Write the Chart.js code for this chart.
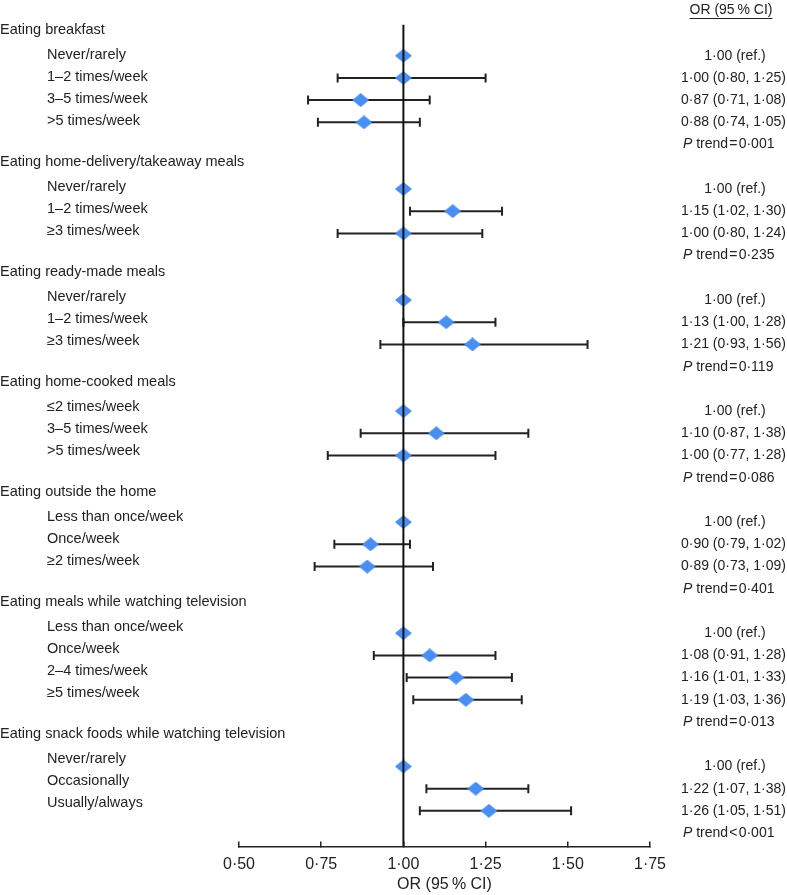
<!DOCTYPE html>
<html>
<head>
<meta charset="utf-8">
<script src="https://cdn.jsdelivr.net/npm/chart.js@4.4.1/dist/chart.umd.min.js"></script>
<style>
  body { margin: 0; background: #fff; }
  #wrap { width: 787px; height: 895px; position: relative; }
</style>
</head>
<body>
<div id="wrap"><canvas id="forest"></canvas></div>
<script>
// data
const sections = [
  'Eating breakfast',
  'Eating home-delivery/takeaway meals',
  'Eating ready-made meals',
  'Eating home-cooked meals',
  'Eating outside the home',
  'Eating meals while watching television',
  'Eating snack foods while watching television'
];
const itemLabels = [
  ['Never/rarely', '1–2 times/week', '3–5 times/week', '>5 times/week'],
  ['Never/rarely', '1–2 times/week', '≥3 times/week'],
  ['Never/rarely', '1–2 times/week', '≥3 times/week'],
  ['≤2 times/week', '3–5 times/week', '>5 times/week'],
  ['Less than once/week', 'Once/week', '≥2 times/week'],
  ['Less than once/week', 'Once/week', '2–4 times/week', '≥5 times/week'],
  ['Never/rarely', 'Occasionally', 'Usually/always']
];
const orValues = [
  [1.00, 1.00, 0.87, 0.88],
  [1.00, 1.15, 1.00],
  [1.00, 1.13, 1.21],
  [1.00, 1.10, 1.00],
  [1.00, 0.90, 0.89],
  [1.00, 1.08, 1.16, 1.19],
  [1.00, 1.22, 1.26]
];
const ciLower = [
  [null, 0.80, 0.71, 0.74],
  [null, 1.02, 0.80],
  [null, 1.00, 0.93],
  [null, 0.87, 0.77],
  [null, 0.79, 0.73],
  [null, 0.91, 1.01, 1.03],
  [null, 1.07, 1.05]
];
const ciUpper = [
  [null, 1.25, 1.08, 1.05],
  [null, 1.30, 1.24],
  [null, 1.28, 1.56],
  [null, 1.38, 1.28],
  [null, 1.02, 1.09],
  [null, 1.28, 1.33, 1.36],
  [null, 1.38, 1.51]
];
const pTrend = ['=0·001', '=0·235', '=0·119', '=0·086', '=0·401', '=0·013', '<0·001'];
const xTicks = [0.50, 0.75, 1.00, 1.25, 1.50, 1.75];
const refValue = 1.00;

const textColor = '#222';
const markColor = '#4A8FEF';
const fontFam = '"Liberation Sans", Arial, Helvetica, sans-serif';

function fmt(v) {
  return v.toFixed(2).replace('.', '·');
}

// one row for the header, one per category, one for the P trend
const rows = [];
let r = 0;
sections.forEach((name, s) => {
  rows.push({ kind: 'header', text: name, y: r++ });
  itemLabels[s].forEach((lab, i) => rows.push({ kind: 'item', text: lab, y: r++, s: s, i: i }));
  rows.push({ kind: 'p', y: r++, s: s });
});
const yMin = -0.4, yMax = r - 0.4;

function diamond(w, h, color) {
  const c = document.createElement('canvas');
  c.width = w; c.height = h;
  const g = c.getContext('2d');
  g.fillStyle = color;
  g.beginPath();
  g.moveTo(w / 2, 0); g.lineTo(w, h / 2); g.lineTo(w / 2, h); g.lineTo(0, h / 2);
  g.closePath();
  g.fill();
  return c;
}
const diamondImg = diamond(17, 14, markColor);

const itemRows = rows.filter(row => row.kind === 'item');

const datasets = [];
// reference line at OR = 1
datasets.push({
  type: 'line',
  data: [{ x: refValue, y: yMin }, { x: refValue, y: yMax }],
  borderColor: '#111', borderWidth: 2, pointRadius: 0, order: 1
});
// point estimates
datasets.push({
  type: 'scatter',
  data: itemRows.map(row => ({ x: orValues[row.s][row.i], y: row.y })),
  pointStyle: diamondImg, order: 2
});
// confidence intervals
itemRows.forEach(row => {
  const lo = ciLower[row.s][row.i], hi = ciUpper[row.s][row.i];
  if (lo == null) return;
  datasets.push({
    type: 'line',
    data: [{ x: lo, y: row.y }, { x: hi, y: row.y }],
    borderColor: textColor, borderWidth: 2,
    pointStyle: 'line', pointRotation: 90, pointRadius: 4.5,
    pointBorderWidth: 2, pointBorderColor: textColor,
    order: 3
  });
});

// left column runs on a slightly tighter pitch than the marks
const leftPitch = 0.99;
const headerShift = -0.15;

const textPlugin = {
  id: 'forestText',
  afterDraw(chart) {
    const { ctx, scales: { y } } = chart;
    ctx.save();
    ctx.fillStyle = textColor;
    ctx.strokeStyle = textColor;
    ctx.textBaseline = 'middle';
    const normal = '14.5px ' + fontFam;
    const small = '14px ' + fontFam;
    rows.forEach(row => {
      const py = y.getPixelForValue(row.y);
      const ly = y.getPixelForValue(row.y * leftPitch + (row.kind === 'header' ? headerShift : 0));
      ctx.font = normal;
      ctx.textAlign = 'left';
      if (row.kind === 'header') {
        ctx.fillText(row.text, 0, ly);
      } else if (row.kind === 'item') {
        ctx.fillText(row.text, 47, ly);
        const or = orValues[row.s][row.i];
        const lo = ciLower[row.s][row.i], hi = ciUpper[row.s][row.i];
        ctx.font = small;
        if (lo == null) {
          ctx.textAlign = 'center';
          ctx.fillText(fmt(or) + ' (ref.)', 735, py);
        } else {
          ctx.textAlign = 'right';
          ctx.fillText(fmt(or) + ' (' + fmt(lo) + ', ' + fmt(hi) + ')', 786, py);
        }
      } else {
        ctx.font = 'italic 14px ' + fontFam;
        ctx.fillText('P', 683, py);
        const pw = ctx.measureText('P ').width;
        ctx.font = small;
        const p = pTrend[row.s];
        ctx.fillText('trend\u200A' + p[0] + '\u200A' + p.slice(1), 683 + pw, py);
      }
    });
    // column header
    ctx.font = small;
    ctx.textAlign = 'center';
    const head = 'OR (95\u2009% CI)';
    const hy = 10;
    ctx.fillText(head, 731, hy);
    const hw = ctx.measureText(head).width;
    ctx.lineWidth = 1;
    ctx.beginPath();
    ctx.moveTo(731 - hw / 2, hy + 8.5);
    ctx.lineTo(731 + hw / 2, hy + 8.5);
    ctx.stroke();
    ctx.restore();
  }
};

new Chart(document.getElementById('forest'), {
  type: 'scatter',
  data: { datasets: datasets },
  options: {
    responsive: true,
    maintainAspectRatio: false,
    animation: false,
    events: [],
    layout: { padding: { left: 239, right: 137, top: 24.6, bottom: 0 } },
    plugins: { legend: { display: false }, tooltip: { enabled: false } },
    scales: {
      x: {
        type: 'linear',
        min: xTicks[0],
        max: xTicks[xTicks.length - 1],
        afterFit: s => { s.height = 48.6; },
        afterBuildTicks: s => { s.ticks = xTicks.map(v => ({ value: v })); },
        ticks: {
          color: textColor,
          font: { family: fontFam, size: 16 },
          padding: 14,
          callback: v => fmt(v)
        },
        grid: {
          drawOnChartArea: false,
          drawTicks: true,
          tickLength: -5,
          color: textColor,
          lineWidth: 1.5
        },
        border: { display: true, color: textColor, width: 1.5 },
        title: {
          display: true,
          text: 'OR (95\u2009% CI)',
          color: textColor,
          font: { family: fontFam, size: 16 },
          padding: { top: 0, bottom: 0.5 }
        }
      },
      y: {
        type: 'linear',
        display: false,
        reverse: true,
        min: yMin,
        max: yMax
      }
    }
  },
  plugins: [textPlugin]
});
</script>
</body>
</html>
